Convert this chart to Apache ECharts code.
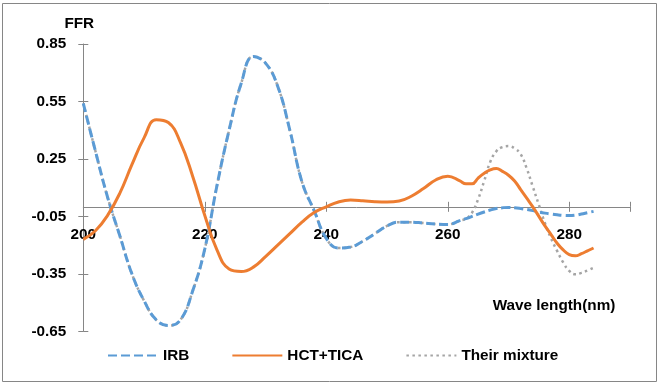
<!DOCTYPE html>
<html>
<head>
<meta charset="utf-8">
<script src="https://cdn.jsdelivr.net/npm/echarts@6/dist/echarts.min.js"></script>
<style>
  html, body { margin: 0; padding: 0; background: #ffffff; }
  #chart { width: 660px; height: 385px; }
</style>
</head>
<body>
<div id="chart"></div>
<script>
// Wavelength grid (nm)
const wavelengths = [200,202,204,206,208,210,212,214,216,218,220,222,224,226,228,230,232,234,236,238,240,242,244,246,248,250,252,254,256,258,260,262,
  263,264,265,266,267,268,269,270,271,272,273,274,275,276,277,278,279,280,281,282,283,284];

// IRB (dashed blue)
const irbValues = [0.54,0.29,0.05,-0.15,-0.35,-0.49,-0.59,-0.62,-0.59,-0.44,-0.22,0.11,0.40,0.645,0.785,0.75,0.63,0.40,0.13,-0.02,-0.165,-0.215,-0.21,-0.18,-0.14,-0.10,-0.08,-0.08,-0.085,-0.09,-0.092,-0.072,
  -0.062,-0.05,-0.038,-0.027,-0.017,-0.009,-0.005,-0.003,-0.005,-0.009,-0.014,-0.02,-0.027,-0.033,-0.038,-0.042,-0.045,-0.046,-0.044,-0.038,-0.031,-0.024];

// HCT+TICA (solid orange)
const hctTicaValues = [-0.17,-0.125,-0.045,0.07,0.22,0.36,0.455,0.44,0.335,0.16,-0.045,-0.225,-0.325,-0.338,-0.315,-0.26,-0.2,-0.14,-0.08,-0.03,0.0,0.025,0.035,0.032,0.027,0.025,0.03,0.055,0.095,0.14,0.16,0.135,
  0.12,0.12,0.15,0.175,0.193,0.2,0.185,0.165,0.135,0.09,0.045,0.0,-0.05,-0.1,-0.145,-0.19,-0.225,-0.25,-0.256,-0.245,-0.23,-0.215];

// Their mixture (dotted grey)
const mixtureValues = [0.54,0.29,0.05,-0.15,-0.35,-0.49,-0.59,-0.62,-0.59,-0.44,-0.22,0.11,0.40,0.645,0.785,0.75,0.63,0.40,0.13,-0.02,-0.165,-0.215,-0.21,-0.18,-0.14,-0.10,-0.08,-0.08,-0.085,-0.09,-0.092,-0.072,
  -0.062,-0.03,0.04,0.135,0.235,0.29,0.312,0.317,0.305,0.275,0.2,0.105,0.01,-0.085,-0.165,-0.23,-0.29,-0.335,-0.352,-0.345,-0.332,-0.318];

const seriesNames = ['IRB', 'HCT+TICA', 'Their mixture'];
const yTickLabels = ['-0.65', '-0.35', '-0.05', '0.25', '0.55', '0.85'];
const xTickLabels = ['200', '220', '240', '260', '280'];
const yAxisTitle = 'FFR';
const xAxisTitle = 'Wave length(nm)';

const pairs = (vals) => wavelengths.map((w, i) => [w, vals[i]]);

const FONT = '"Liberation Sans", Arial, sans-serif';
const FS = 15.3;
const AXIS_COLOR = '#868686';

const GRID_TOP = 44, GRID_BOTTOM = 53.7, H = 385;
const yMin = parseFloat(yTickLabels[0]);
const yMax = parseFloat(yTickLabels[yTickLabels.length - 1]);
const xMin = parseFloat(xTickLabels[0]);
// place the x axis where y = 0 (like Excel's "crosses at 0")
const plotH = H - GRID_TOP - GRID_BOTTOM;
const zeroOffset = -(plotH * (0 - yMin) / (yMax - yMin));

const chart = echarts.init(document.getElementById('chart'), null, { renderer: 'canvas' });

chart.setOption({
  animation: false,
  backgroundColor: '#ffffff',
  textStyle: { fontFamily: FONT },
  grid: { left: 83.3, right: 30, top: GRID_TOP, bottom: GRID_BOTTOM, containLabel: false },
  xAxis: [
    {
      type: 'value', min: xMin, max: 290, interval: 20, position: 'bottom', offset: zeroOffset,
      axisLine: { onZero: false, lineStyle: { color: AXIS_COLOR, width: 1 } },
      axisTick: { show: true, length: 5, lineStyle: { color: AXIS_COLOR } },
      splitLine: { show: false },
      axisLabel: {
        margin: 20, color: '#000', fontWeight: 'bold', fontSize: FS, fontFamily: FONT,
        formatter: (v) => { const s = String(v); return xTickLabels.indexOf(s) >= 0 ? s : ''; }
      }
    },
    {
      type: 'value', min: xMin, max: 290, interval: 20, position: 'bottom', offset: zeroOffset,
      axisLine: { show: false, onZero: false },
      axisTick: { show: true, inside: true, length: 5, lineStyle: { color: AXIS_COLOR } },
      axisLabel: { show: false }, splitLine: { show: false }
    }
  ],
  yAxis: [
    {
      type: 'value', min: yMin, max: yMax, interval: 0.3,
      name: yAxisTitle, nameLocation: 'end', nameGap: 13,
      nameTextStyle: { color: '#000', fontWeight: 'bold', fontSize: FS, fontFamily: FONT, padding: [0, 8, 0, 0] },
      axisLine: { show: true, onZero: false, lineStyle: { color: AXIS_COLOR, width: 1 } },
      axisTick: { show: true, length: 5, lineStyle: { color: AXIS_COLOR } },
      splitLine: { show: false },
      axisLabel: {
        margin: 17, color: '#000', fontWeight: 'bold', fontSize: FS, fontFamily: FONT,
        formatter: (v) => v.toFixed(2)
      }
    },
    {
      type: 'value', min: yMin, max: yMax, interval: 0.3, position: 'left',
      axisLine: { show: false, onZero: false },
      axisTick: { show: true, inside: true, length: 5, lineStyle: { color: AXIS_COLOR } },
      axisLabel: { show: false }, splitLine: { show: false }
    }
  ],
  legend: {
    data: seriesNames,
    left: 102, top: 343,
    itemWidth: 50, itemHeight: 14, itemGap: 42,
    itemStyle: { opacity: 0, borderWidth: 0 },
    textStyle: { color: '#000', fontWeight: 'bold', fontSize: FS, fontFamily: FONT }
  },
  graphic: [
    {
      type: 'rect', silent: true, z: -10,
      shape: { x: 2.5, y: 3.5, width: 654, height: 378 },
      style: { fill: 'none', stroke: '#868686', lineWidth: 1 }
    },
    {
      type: 'text', silent: true,
      x: 554, y: 306,
      style: {
        text: xAxisTitle, fill: '#000', font: 'bold ' + FS + 'px ' + FONT,
        textAlign: 'center', textVerticalAlign: 'middle'
      }
    }
  ],
  series: [
    {
      name: seriesNames[2], type: 'line', data: pairs(mixtureValues),
      smooth: 0.45, symbol: 'none', showSymbol: false,
      lineStyle: { color: '#A5A5A5', width: 2.5, type: [2.5, 3.5], cap: 'butt' },
      itemStyle: { color: '#A5A5A5' }, z: 2
    },
    {
      name: seriesNames[0], type: 'line', data: pairs(irbValues),
      smooth: 0.45, symbol: 'none', showSymbol: false,
      lineStyle: { color: '#5B9BD5', width: 3, type: [9, 4], cap: 'butt' },
      itemStyle: { color: '#5B9BD5' }, z: 3
    },
    {
      name: seriesNames[1], type: 'line', data: pairs(hctTicaValues),
      smooth: 0.45, symbol: 'none', showSymbol: false,
      lineStyle: { color: '#ED7D31', width: 3, type: 'solid' },
      itemStyle: { color: '#ED7D31' }, z: 4
    }
  ]
});
</script>
</body>
</html>
